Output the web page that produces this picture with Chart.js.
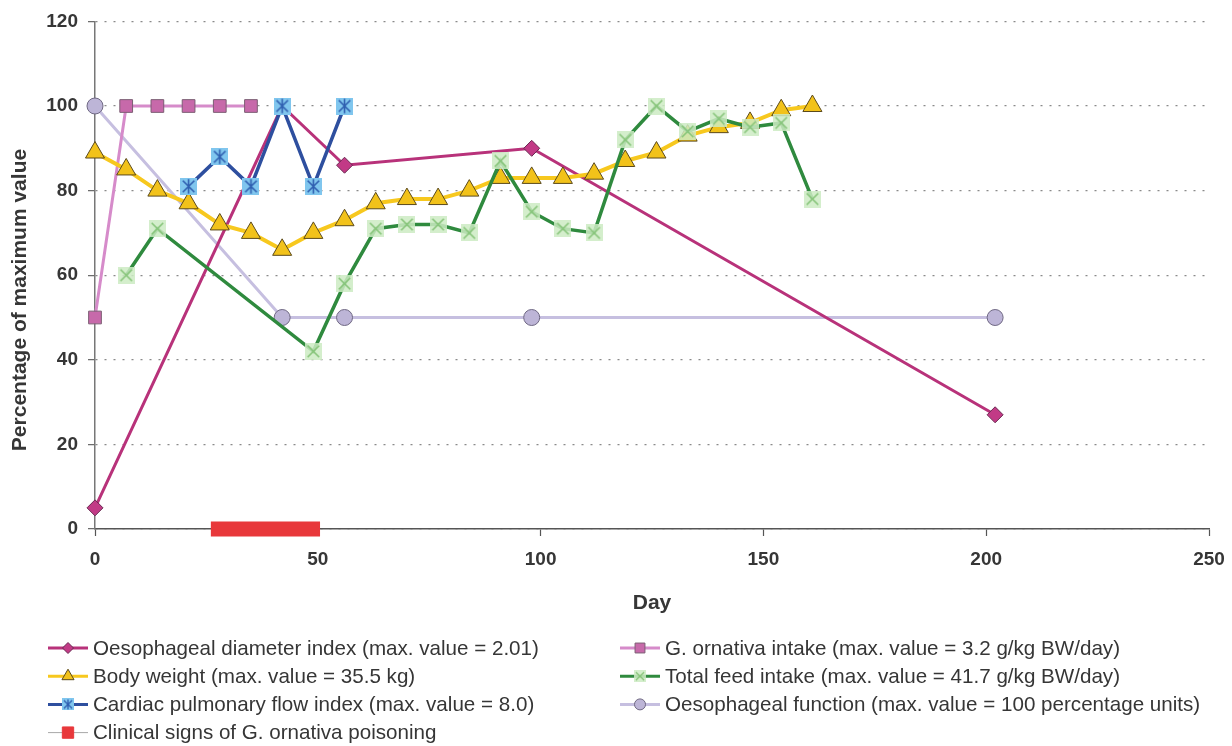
<!DOCTYPE html>
<html>
<head>
<meta charset="utf-8">
<script src="https://cdn.jsdelivr.net/npm/chart.js@4.4.1/dist/chart.umd.min.js"></script>
<style>
  html, body { margin: 0; padding: 0; background: #fff; }
  #wrap { width: 1232px; height: 746px; position: relative; }
</style>
</head>
<body>
<div id="wrap"><canvas id="chart"></canvas></div>
<script>
// ---- data (day, % of maximum value) ----
const oesoDiameterDays   = [0, 42, 56, 98, 202];
const oesoDiameterValues = [5, 100, 86, 90, 27];

const intakeDays   = [0, 7, 14, 21, 28, 35];
const intakeValues = [50, 100, 100, 100, 100, 100];

const weightDays   = [0, 7, 14, 21, 28, 35, 42, 49, 56, 63, 70, 77, 84, 91, 98, 105, 112, 119, 126, 133, 140, 147, 154, 161];
const weightValues = [89, 85, 80, 77, 72, 70, 66, 70, 73, 77, 78, 78, 80, 83, 83, 83, 84, 87, 89, 93, 95, 96, 99, 100];

const feedDays   = [7, 14, 49, 56, 63, 70, 77, 84, 91, 98, 105, 112, 119, 126, 133, 140, 147, 154, 161];
const feedValues = [60, 71, 42, 58, 71, 72, 72, 70, 87, 75, 71, 70, 92, 100, 94, 97, 95, 96, 78];

const cardiacDays   = [21, 28, 35, 42, 49, 56];
const cardiacValues = [81, 88, 81, 100, 81, 100];

const oesoFunctionDays   = [0, 42, 56, 98, 202];
const oesoFunctionValues = [100, 50, 50, 50, 50];

const clinicalDays   = [26, 50.5];
const clinicalValues = [0, 0];

const seriesLabels = [
  'Oesophageal diameter index (max. value = 2.01)',
  'G. ornativa intake (max. value = 3.2 g/kg BW/day)',
  'Body weight (max. value = 35.5 kg)',
  'Total feed intake (max. value = 41.7 g/kg BW/day)',
  'Cardiac pulmonary flow index (max. value = 8.0)',
  'Oesophageal function (max. value = 100 percentage units)',
  'Clinical signs of G. ornativa poisoning'
];

const xTickValues = [0, 50, 100, 150, 200, 250];
const yTickValues = [0, 20, 40, 60, 80, 100, 120];
const xAxisTitle = 'Day';
const yAxisTitle = 'Percentage of maximum value';

// ---- helpers ----
const toPoints = (days, values) => days.map((d, i) => ({ x: d, y: values[i] }));
const FONT = '"Liberation Sans", Arial, Helvetica, sans-serif';
const TEXT = '#363636';

// square marker with a cross (and optional vertical stroke for an asterisk)
function boxMarker(size, fill, stroke, lw, star) {
  const c = document.createElement('canvas');
  c.width = size; c.height = size;
  const g = c.getContext('2d');
  g.fillStyle = fill;
  g.fillRect(0, 0, size, size);
  g.strokeStyle = stroke;
  g.lineWidth = lw;
  g.lineCap = 'butt';
  const m = size * 0.16, e = size - m;
  g.beginPath();
  g.moveTo(m, m); g.lineTo(e, e);
  g.moveTo(e, m); g.lineTo(m, e);
  if (star) { g.moveTo(size / 2, m * 0.5); g.lineTo(size / 2, size - m * 0.5); }
  g.stroke();
  return c;
}

const feedMarker      = boxMarker(17, 'rgba(205,235,195,0.85)', '#86c479', 1.6, false);
const feedMarkerSm    = boxMarker(12, 'rgba(205,235,195,0.85)', '#86c479', 1.3, false);
const cardiacMarker   = boxMarker(17, '#80c6ee', '#2f5fb0', 1.6, true);
const cardiacMarkerSm = boxMarker(12, '#80c6ee', '#2f5fb0', 1.3, true);

Chart.defaults.font.family = FONT;
Chart.defaults.color = TEXT;

const datasets = [
  { // 0
    label: seriesLabels[0], data: toPoints(oesoDiameterDays, oesoDiameterValues),
    borderColor: '#b8327a', borderWidth: 3,
    pointStyle: 'rectRot', pointRadius: 8, pointBackgroundColor: '#c23a86',
    pointBorderColor: '#6a2a52', pointBorderWidth: 1, order: 3, clip: 14
  },
  { // 1
    label: seriesLabels[1], data: toPoints(intakeDays, intakeValues),
    borderColor: '#d68bca', borderWidth: 3,
    pointStyle: 'rect', pointRadius: 9, pointBackgroundColor: '#c769aa',
    pointBorderColor: '#7c5e74', pointBorderWidth: 1, order: 4, clip: 14
  },
  { // 2
    label: seriesLabels[2], data: toPoints(weightDays, weightValues),
    borderColor: '#f7c81e', borderWidth: 4,
    pointStyle: 'triangle', pointRadius: 11, pointBackgroundColor: '#f2c21a',
    pointBorderColor: '#5b4a1c', pointBorderWidth: 1, order: 2, clip: 14
  },
  { // 3
    label: seriesLabels[3], data: toPoints(feedDays, feedValues),
    borderColor: '#2f8a3e', borderWidth: 3.5,
    pointStyle: feedMarker, order: 1, clip: 14
  },
  { // 4
    label: seriesLabels[4], data: toPoints(cardiacDays, cardiacValues),
    borderColor: '#2e4f9f', borderWidth: 3.5,
    pointStyle: cardiacMarker, order: 0, clip: 14
  },
  { // 5
    label: seriesLabels[5], data: toPoints(oesoFunctionDays, oesoFunctionValues),
    borderColor: '#c6bfe0', borderWidth: 3,
    pointStyle: 'circle', pointRadius: 8, pointBackgroundColor: '#bdb5d7',
    pointBorderColor: '#6f6883', pointBorderWidth: 1, order: 5, clip: 14
  },
  { // 6
    label: seriesLabels[6], data: toPoints(clinicalDays, clinicalValues),
    borderColor: '#e8383b', borderWidth: 15, borderCapStyle: 'butt',
    pointRadius: 0, clip: false, order: 6
  }
];

// legend keys: column, row, dataset index, small marker spec
const legendKeys = [
  { col: 0, row: 0, ds: 0, marker: { style: 'rectRot', r: 5.5 } },
  { col: 0, row: 1, ds: 2, marker: { style: 'triangle', r: 7 } },
  { col: 0, row: 2, ds: 4, marker: { style: cardiacMarkerSm } },
  { col: 0, row: 3, ds: 6, marker: { style: 'rect', r: 8, fill: '#e8383b', border: '#e8383b' }, thinLine: true },
  { col: 1, row: 0, ds: 1, marker: { style: 'rect', r: 7 } },
  { col: 1, row: 1, ds: 3, marker: { style: feedMarkerSm } },
  { col: 1, row: 2, ds: 5, marker: { style: 'circle', r: 5.5 } }
];

const legendPlugin = {
  id: 'seriesKey',
  afterDraw(chart) {
    const ctx = chart.ctx;
    const colX = [48, 620];
    const rowY0 = 648, rowStep = 28.2, lineLen = 40;
    ctx.save();
    ctx.font = '20.6px ' + FONT;
    ctx.textBaseline = 'middle';
    ctx.textAlign = 'left';
    legendKeys.forEach(k => {
      const ds = chart.data.datasets[k.ds];
      const x0 = colX[k.col];
      const y = rowY0 + k.row * rowStep;
      ctx.beginPath();
      ctx.strokeStyle = k.thinLine ? '#a8a8a8' : ds.borderColor;
      ctx.lineWidth = k.thinLine ? 1 : 3;
      ctx.moveTo(x0, y); ctx.lineTo(x0 + lineLen, y);
      ctx.stroke();
      const m = k.marker;
      ctx.fillStyle = m.fill || ds.pointBackgroundColor || '#fff';
      ctx.strokeStyle = m.border || ds.pointBorderColor || ds.borderColor;
      ctx.lineWidth = 1;
      Chart.helpers.drawPoint(ctx, { pointStyle: m.style, radius: m.r || 6, rotation: 0, borderWidth: 1 }, x0 + lineLen / 2, y);
      ctx.fillStyle = TEXT;
      ctx.fillText(ds.label, x0 + lineLen + 5, y + 1);
    });
    ctx.restore();
  }
};

const axisTitlePlugin = {
  id: 'axisTitles',
  afterDraw(chart) {
    const ctx = chart.ctx;
    const area = chart.chartArea;
    ctx.save();
    ctx.fillStyle = TEXT;
    ctx.font = 'bold 21px ' + FONT;
    ctx.textAlign = 'center';
    ctx.textBaseline = 'middle';
    ctx.fillText(xAxisTitle, (area.left + area.right) / 2, 603);
    ctx.translate(20, 300);
    ctx.rotate(-Math.PI / 2);
    ctx.fillText(yAxisTitle, 0, 0);
    ctx.restore();
  }
};

new Chart(document.getElementById('chart'), {
  type: 'line',
  data: { datasets },
  options: {
    responsive: true,
    maintainAspectRatio: false,
    animation: false,
    events: [],
    layout: { padding: { left: 0, top: 21, right: 23, bottom: 126 } },
    plugins: { legend: { display: false }, tooltip: { enabled: false } },
    elements: { line: { tension: 0 } },
    scales: {
      x: {
        type: 'linear', min: 0, max: 250,
        afterBuildTicks: s => { s.ticks = xTickValues.map(v => ({ value: v })); },
        afterFit: s => { s.height = 91; s.paddingLeft = 0; s.paddingRight = 0; },
        grid: { drawOnChartArea: false, drawTicks: true, tickLength: 7, tickColor: '#555', tickWidth: 1.2 },
        border: { display: true, color: '#555', width: 1.5 },
        ticks: { font: { size: 19, weight: 'bold' }, color: TEXT, padding: 12, maxRotation: 0 }
      },
      y: {
        type: 'linear', min: 0, max: 120,
        afterBuildTicks: s => { s.ticks = yTickValues.map(v => ({ value: v })); },
        afterFit: s => { s.width = 95; },
        grid: { color: '#8a8a8a', lineWidth: 1.3, drawTicks: true, tickLength: 7, tickColor: '#666', tickWidth: 1.2 },
        border: { display: true, color: '#777', width: 1.5, dash: [2, 7] },
        ticks: { font: { size: 19, weight: 'bold' }, color: TEXT, padding: 10 }
      }
    }
  },
  plugins: [legendPlugin, axisTitlePlugin]
});
</script>
</body>
</html>
